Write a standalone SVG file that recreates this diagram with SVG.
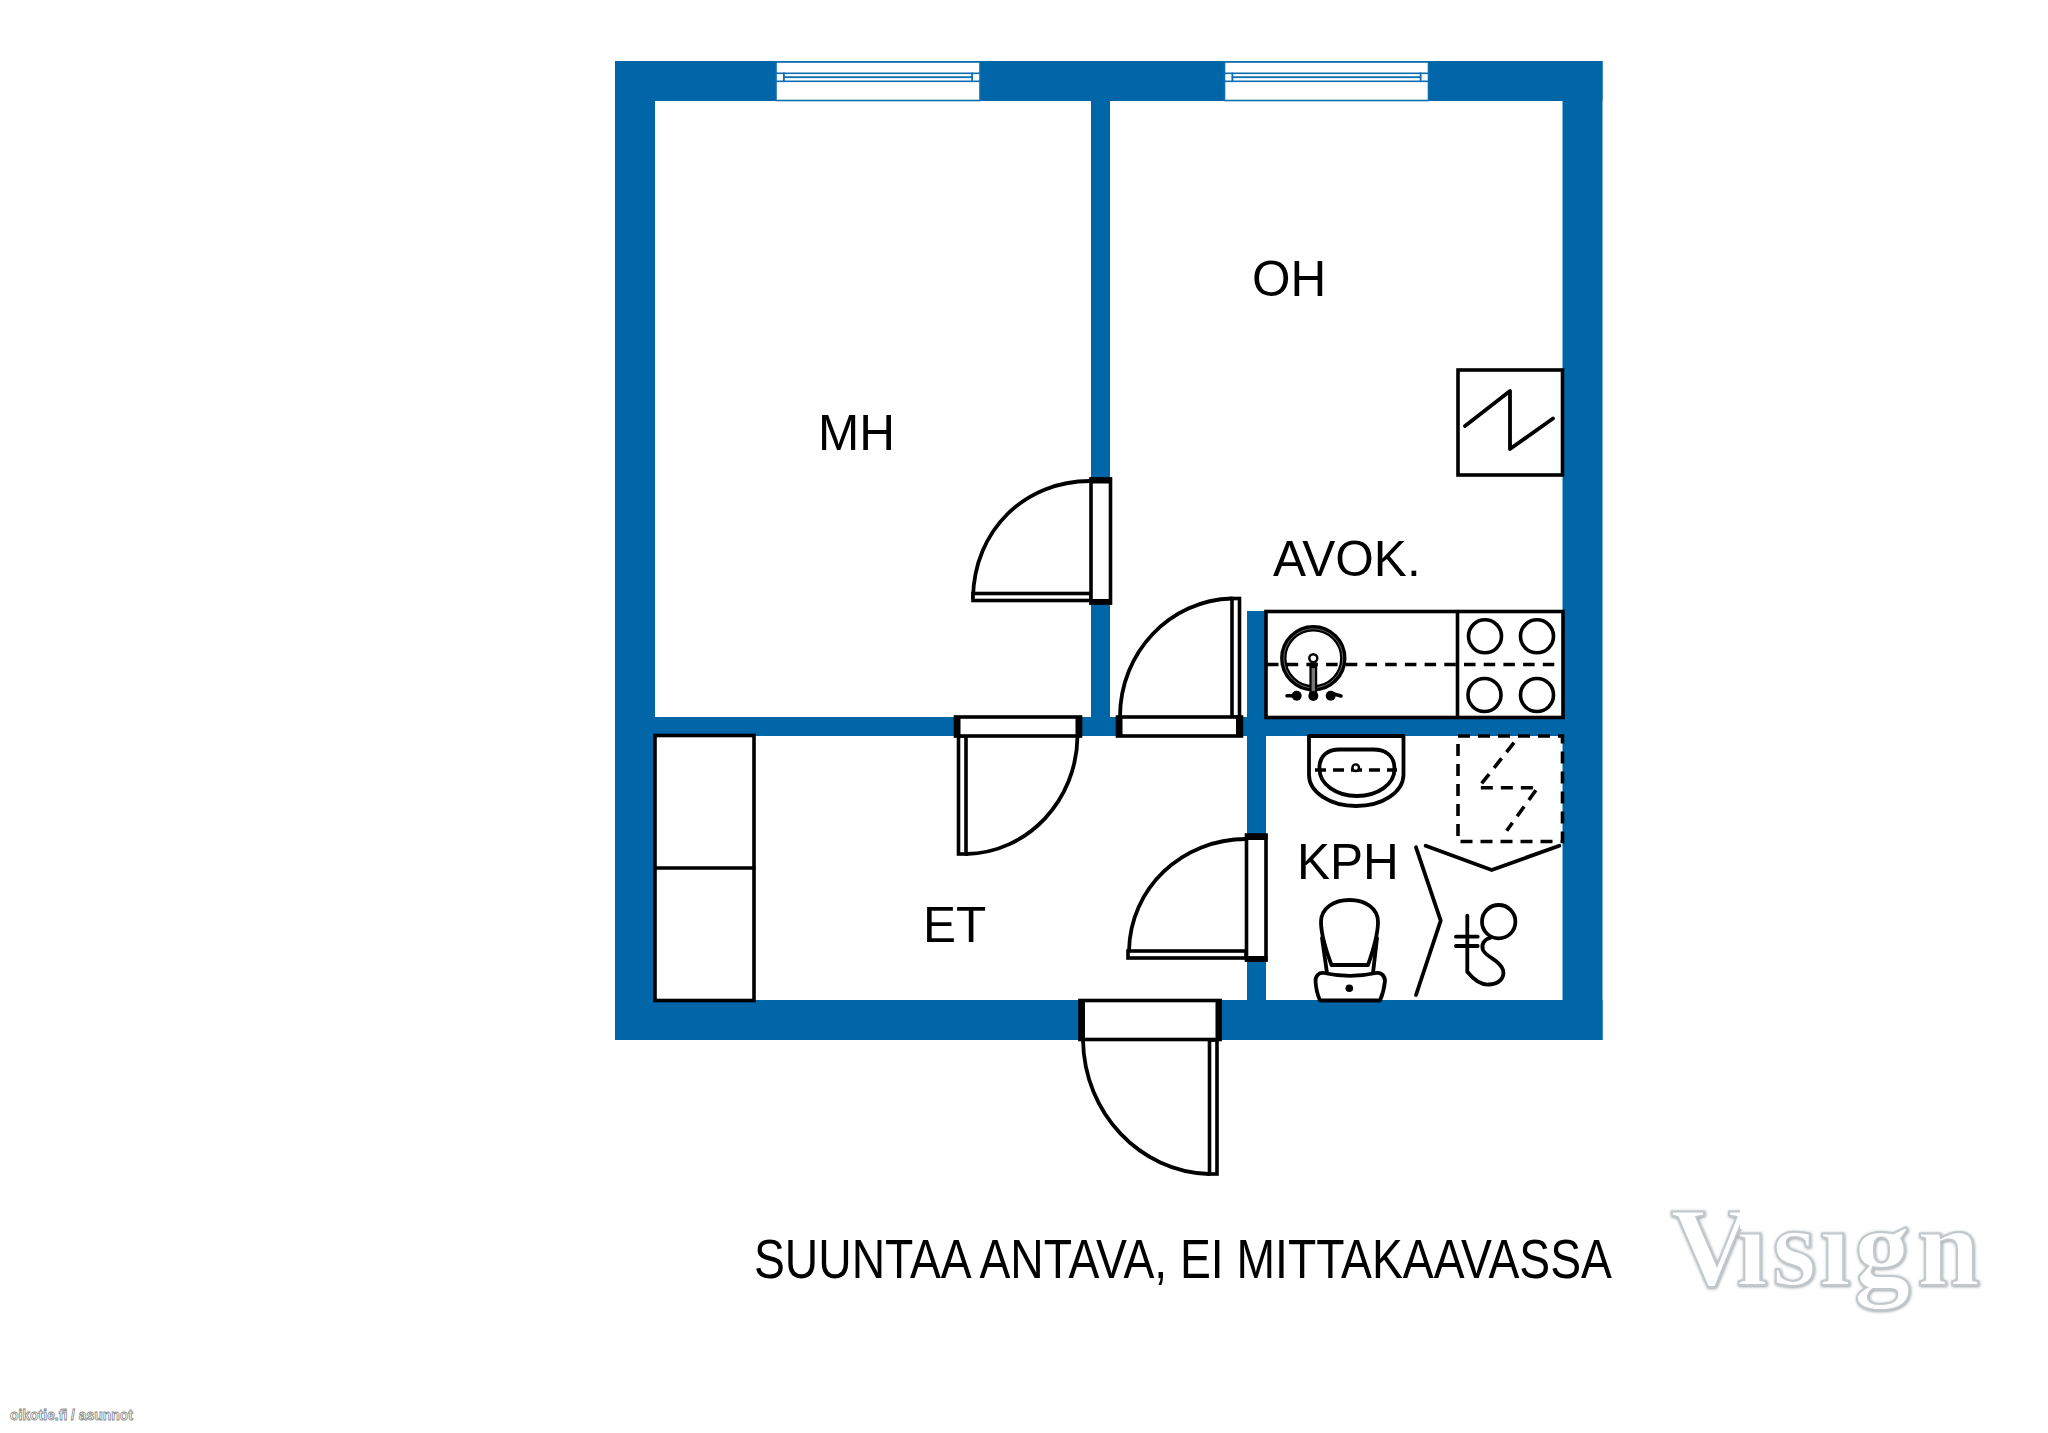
<svg xmlns="http://www.w3.org/2000/svg" width="2048" height="1433" viewBox="0 0 2048 1433">
<style>
.w{fill:#0066a8}
.win{fill:#fff;stroke:#0a6fb0;stroke-width:1.6}
.l{fill:none;stroke:#000;stroke-width:3.6;stroke-linejoin:round;stroke-linecap:round}
.o{fill:#fff;stroke:#000;stroke-width:3.6}
.m{fill:none;stroke:#000;stroke-width:3.8;stroke-linecap:round;stroke-linejoin:round}
.d{fill:none;stroke:#000;stroke-width:3.6;stroke-dasharray:12 8}
.k{fill:#000}
.t{font-family:"Liberation Sans",Arial,sans-serif;fill:#000;font-size:49.5px}
</style>
<defs>
<filter id="soft" x="-10%" y="-10%" width="120%" height="125%"><feDropShadow dx="0.6" dy="0.8" stdDeviation="1.8" flood-color="#7d858a" flood-opacity="0.85"/></filter>
<clipPath id="nodots"><rect x="1660" y="1190" width="80" height="120"/><rect x="1740" y="1229" width="250" height="90"/><rect x="1880" y="1190" width="40" height="40"/></clipPath>
</defs>
<g id="walls">
<rect class="w" x="615" y="61" width="987.5" height="40"/>
<rect class="w" x="615" y="1000" width="987.5" height="40"/>
<rect class="w" x="615" y="61" width="40" height="979"/>
<rect class="w" x="1562.5" y="61" width="40" height="979"/>
<rect class="w" x="1091" y="101" width="19" height="620"/>
<rect class="w" x="655" y="717" width="908" height="19"/>
<rect class="w" x="1247" y="611" width="19" height="392"/>
</g>
<g id="window-mh">
<rect class="win" x="776" y="62" width="204" height="38.5"/>
<rect class="win" x="776" y="73.3" width="8" height="8"/>
<rect class="win" x="972" y="73.3" width="8" height="8"/>
<rect class="win" x="784" y="73.3" width="188" height="4"/>
<rect class="win" x="784" y="77.3" width="188" height="4"/>
</g>
<g id="window-oh">
<rect class="win" x="1224.5" y="62" width="204" height="38.5"/>
<rect class="win" x="1224.5" y="73.3" width="8" height="8"/>
<rect class="win" x="1420.5" y="73.3" width="8" height="8"/>
<rect class="win" x="1232.5" y="73.3" width="188" height="4"/>
<rect class="win" x="1232.5" y="77.3" width="188" height="4"/>
</g>
<g id="door-mh">
<path class="m" d="M1090 481C1025 481 974 530 973 598"/>
<rect class="o" x="973" y="593.5" width="118" height="7"/>
<rect class="o" x="1091" y="479" width="19.5" height="124"/>
<rect class="k" x="1089.5" y="477.5" width="22.5" height="6"/>
<rect class="k" x="1089.5" y="599" width="22.5" height="5.5"/>
</g>
<g id="door-oh">
<path class="m" d="M1232 598.5C1170 600 1120 652 1120 717"/>
<rect class="o" x="1232" y="598.5" width="7.5" height="118.5"/>
<rect class="o" x="1117.5" y="717" width="124" height="19"/>
<rect class="k" x="1116" y="716" width="6.5" height="21"/>
<rect class="k" x="1236" y="716" width="6.5" height="21"/>
</g>
<g id="door-et">
<path class="m" d="M1077.5 736C1077 800 1028 853 966 854"/>
<rect class="o" x="958.5" y="736" width="7.5" height="118"/>
<rect class="o" x="955.5" y="717" width="125" height="19"/>
<rect class="k" x="954" y="716" width="6.5" height="21"/>
<rect class="k" x="1075.5" y="716" width="6.5" height="21"/>
</g>
<g id="door-kph">
<path class="m" d="M1246 839C1182 839 1130 888 1129 951"/>
<rect class="o" x="1128" y="951" width="118" height="7"/>
<rect class="o" x="1246.5" y="835" width="19.5" height="125"/>
<rect class="k" x="1245" y="834" width="22.5" height="6"/>
<rect class="k" x="1245" y="956" width="22.5" height="5.5"/>
</g>
<g id="door-entrance">
<path class="m" d="M1083 1040C1084 1113 1140 1172 1209 1174"/>
<rect class="o" x="1209.5" y="1040" width="7.5" height="134"/>
<rect class="o" x="1080" y="1000.5" width="140" height="39"/>
<rect class="k" x="1079" y="999" width="6" height="42"/>
<rect class="k" x="1215.5" y="999" width="6" height="42"/>
</g>
<g id="wardrobe">
<rect class="o" x="655" y="735.5" width="99" height="265"/>
<line class="l" x1="655" y1="868" x2="754" y2="868"/>
</g>
<g id="heater">
<rect class="o" x="1458" y="370" width="104.5" height="105"/>
<path class="m" d="M1465 426L1510 391V449L1553 418.5"/>
</g>
<g id="kitchen">
<rect class="o" x="1266" y="611.5" width="297" height="106"/>
<line class="l" x1="1457.5" y1="611.5" x2="1457.5" y2="717.5"/>
<circle class="l" cx="1485" cy="636.3" r="16.5"/>
<circle class="l" cx="1537" cy="636.3" r="16.5"/>
<circle class="l" cx="1484.5" cy="695" r="16.5"/>
<circle class="l" cx="1537" cy="695" r="16.5"/>
<circle cx="1313.3" cy="658.3" r="30" fill="none" stroke="#000" stroke-width="6.4"/>
<circle cx="1313.3" cy="658.3" r="29.5" fill="none" stroke="#666" stroke-width="1"/>
<line x1="1267" y1="664.5" x2="1560" y2="664.5" fill="none" stroke="#000" stroke-width="3.6" stroke-dasharray="11.5 8.2"/>
<circle cx="1313.3" cy="658.3" r="4" fill="#fff" stroke="#000" stroke-width="2.5"/>
<rect x="1310.5" y="667" width="5.6" height="30" fill="#777" stroke="#000" stroke-width="2.2"/>
<circle class="k" cx="1296.7" cy="695.7" r="5"/>
<circle class="k" cx="1313.3" cy="696" r="5"/>
<circle class="k" cx="1330.7" cy="695.7" r="5"/>
<path class="l" d="M1287 695.7H1293M1334 694L1341 696"/>
</g>
<g id="washbasin">
<path class="m" d="M1309 736H1403.5V775C1403 792 1383 806 1356 806C1330 806 1309 792 1309 775Z"/>
<path class="m" d="M1319.5 769C1319 756 1327 749.5 1340 749.5H1373C1386 749.5 1394.5 756 1394.5 769C1394.5 784 1378 796 1357 796C1336 796 1319.5 784 1319.5 769Z"/>
<line x1="1315" y1="770" x2="1397" y2="770" fill="none" stroke="#000" stroke-width="3.4" stroke-dasharray="11 7"/>
<circle cx="1355.7" cy="767.7" r="3.3" fill="#fff" stroke="#000" stroke-width="2.4"/>
</g>
<g id="shower">
<rect class="d" x="1458" y="736" width="104.5" height="105.5"/>
<path class="d" d="M1514 742.7L1478.3 787.7H1537.7L1506.7 830.7" stroke-dasharray="13 8"/>
<path class="m" d="M1425.7 845.7L1491.7 870L1559.3 845.7"/>
<path class="m" d="M1416 847.3L1440.7 920.7L1416 995"/>
<path class="m" d="M1467.3 915.7V971.7C1474 980 1481 985 1489 984.5C1499 984 1505 978 1503 970C1500 960 1487 958 1483 950C1481 945 1484 939 1490 938"/>
<path class="m" d="M1456 936.7H1477.7M1456 946H1477.7"/>
<circle class="m" cx="1498.7" cy="921.7" r="16.7"/>
</g>
<g id="toilet">
<path class="m" d="M1331.5 965C1324 945 1321 932 1321 922C1321 908 1334 900 1349.5 900C1365 900 1378 908 1378 922C1378 932 1375 945 1368 965Z"/>
<path class="m" d="M1327 973L1322 938M1373 973L1377 938"/>
<path class="m" d="M1324 973C1342 977 1358 977 1376 973C1381 972 1385 976 1385 981C1384 990 1382 996 1380 1000.5H1320C1318 996 1316 990 1315.5 981C1315.5 976 1319 972 1324 973Z"/>
<circle class="k" cx="1349.3" cy="988.3" r="3.8"/>
</g>
<g id="labels">
<text class="t" x="818" y="450">MH</text>
<text class="t" x="1252" y="296">OH</text>
<text class="t" x="1273" y="576">AVOK.</text>
<text class="t" x="1297" y="879">KPH</text>
<text class="t" x="923" y="941.5">ET</text>
<text class="t" transform="translate(754 1278) scale(.814 1)" style="font-size:55px" textLength="1054" lengthAdjust="spacingAndGlyphs">SUUNTAA ANTAVA, EI MITTAKAAVASSA</text>
</g>
<g id="logo">
<text x="1670.5" dx="0 -11.6 4.5 3 3.5 6.5" y="1285" clip-path="url(#nodots)" filter="url(#soft)" font-family="'Liberation Serif',serif" font-weight="700" font-size="113" fill="#fff" stroke="#c2c8cc" stroke-width="2">Visign</text>
</g>
<text id="watermark" x="10" y="1420" font-family="'Liberation Sans',Arial,sans-serif" font-weight="700" font-size="14" fill="#fff" stroke="#8a8a8a" stroke-width="0.8" textLength="123" lengthAdjust="spacingAndGlyphs">oikotie.fi / asunnot</text>
</svg>
